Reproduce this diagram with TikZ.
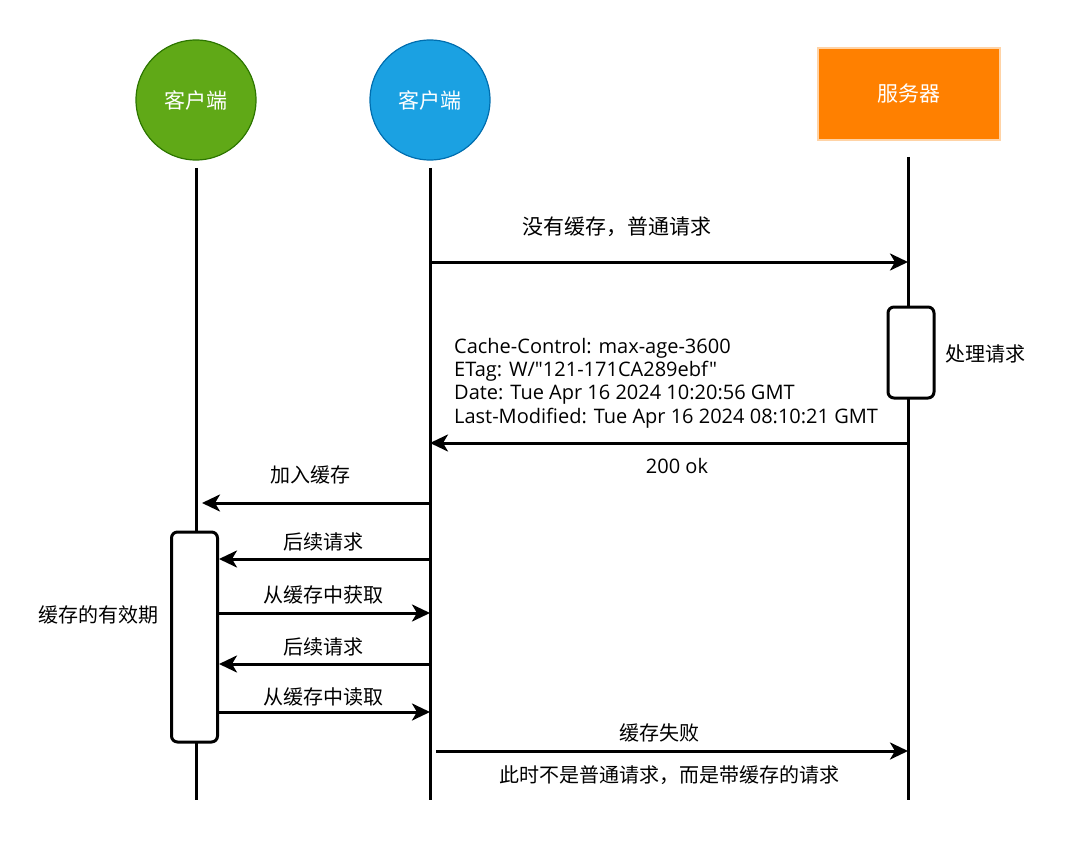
\documentclass[tikz,border=0pt]{standalone}
\usepackage{fontspec}
\setmainfont{Noto Sans CJK SC}
\newfontfamily\hdrfont{Open Sans}
\usetikzlibrary{arrows.meta,positioning}

\definecolor{cacheGreen}{HTML}{60A917}
\definecolor{cacheGreenLine}{HTML}{2D7600}
\definecolor{clientBlue}{HTML}{1BA1E2}
\definecolor{clientBlueLine}{HTML}{006EAF}
\definecolor{serverOrange}{HTML}{FF8000}

\tikzset{
	head/.style={text=white, font=\fontsize{21}{25}\selectfont, line width=1.2pt},
	life/.style={line width=3pt},
	msg/.style={line width=3pt, -{Stealth[length=18pt, width=17pt, inset=5pt]}},
	actbox/.style={draw, fill=white, line width=3pt, rounded corners=6pt, inner sep=0pt},
	lbl/.style={font=\fontsize{20}{24}\selectfont, inner sep=0pt},
	hdr/.style={font=\hdrfont\fontsize{20}{23.3}\selectfont, align=left, inner sep=0pt},
}

\begin{document}
\begin{tikzpicture}[x=1pt, y=-1pt]
	\useasboundingbox (0,0) rectangle (1082,848);
	\def\cacheX{196};
	\def\clientX{430};
	\def\serverX{908};
	\def\lifeEnd{800};
	
	%participants
	\node (cacheHead) [head, circle, minimum size=120pt, fill=cacheGreen, draw=cacheGreenLine] at (\cacheX,100) {客户端};
	\node (clientHead) [head, circle, minimum size=120pt, fill=clientBlue, draw=clientBlueLine] at (\clientX,100) {客户端};
	\node (serverHead) [head, rectangle, minimum width=182pt, minimum height=92pt, fill=serverOrange, draw=serverOrange!35] at (909,94) {服务器};
	
	%lifelines
	\coordinate (cacheTop) at (\cacheX,168);
	\coordinate (cacheBot) at (\cacheX,\lifeEnd);
	\coordinate (clientTop) at (\clientX,168);
	\coordinate (clientBot) at (\clientX,\lifeEnd);
	\coordinate (serverTop) at (\serverX,157);
	\coordinate (serverBot) at (\serverX,\lifeEnd);
	\draw [life] (cacheTop) -- (cacheBot);
	\draw [life] (clientTop) -- (clientBot);
	\draw [life] (serverTop) -- (serverBot);
	
	%activations
	\node (serverAct) [actbox, minimum width=46pt, minimum height=91pt] at (911,352.5) {};
	\node (cacheAct) [actbox, minimum width=46pt, minimum height=210pt] at (194.5,637) {};
	\node (serverActLbl) [lbl] at (985,354) {处理请求};
	\node (cacheActLbl) [lbl] at (98,615) {缓存的有效期};
	
	%message rows
	\coordinate (plainReq) at (0,262);
	\coordinate (okResp) at (0,443);
	\coordinate (addCache) at (0,503);
	\coordinate (nextReqA) at (0,559);
	\coordinate (fromCacheA) at (0,613);
	\coordinate (nextReqB) at (0,664);
	\coordinate (fromCacheB) at (0,712);
	\coordinate (cacheMiss) at (0,751);
	
	%messages
	\draw [msg] (clientTop |- plainReq) -- (serverTop |- plainReq);
	\node (plainReqLbl) [lbl, font=\fontsize{21}{25}\selectfont] at (617,227) {没有缓存，普通请求};
	
	\draw [msg] (serverTop |- okResp) -- (clientTop |- okResp);
	\node (okHdrLbl) [hdr, anchor=west] at (454,383) {Cache-Control: max-age-3600\\ETag: W/"121-171CA289ebf"\\Date: Tue Apr 16 2024 10:20:56 GMT\\Last-Modified: Tue Apr 16 2024 08:10:21 GMT};
	\node (okLbl) [hdr] at (677,466) {200 ok};
	
	\draw [msg, shorten >=6pt] (clientTop |- addCache) -- (cacheTop |- addCache);
	\node (addCacheLbl) [lbl] at (310,475) {加入缓存};
	
	\draw [msg] (clientTop |- nextReqA) -- (cacheAct.east |- nextReqA);
	\node (nextReqALbl) [lbl] at (323,542) {后续请求};
	\draw [msg] (cacheAct.east |- fromCacheA) -- (clientTop |- fromCacheA);
	\node (fromCacheALbl) [lbl] at (323,595) {从缓存中获取};
	\draw [msg] (clientTop |- nextReqB) -- (cacheAct.east |- nextReqB);
	\node (nextReqBLbl) [lbl] at (323,647) {后续请求};
	\draw [msg] (cacheAct.east |- fromCacheB) -- (clientTop |- fromCacheB);
	\node (fromCacheBLbl) [lbl] at (323,697) {从缓存中读取};
	
	\draw [msg, shorten <=6pt] (clientTop |- cacheMiss) -- (serverTop |- cacheMiss);
	\node (cacheMissLbl) [lbl] at (659,733) {缓存失败};
	\node (cacheMissNote) [lbl] at (669,775) {此时不是普通请求，而是带缓存的请求};
	
\end{tikzpicture}
\end{document}
